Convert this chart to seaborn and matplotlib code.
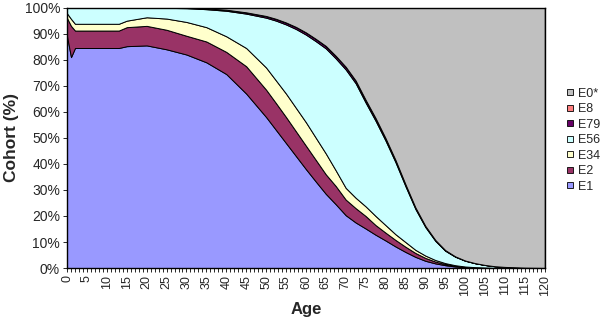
import numpy as np
import pandas as pd
import matplotlib
matplotlib.use("Agg")
import matplotlib.pyplot as plt
from matplotlib.ticker import MultipleLocator, PercentFormatter
from matplotlib.lines import Line2D
import seaborn as sns

ages = [0, 1, 2, 3, 5, 10, 13, 15, 20, 25, 30, 35, 40, 45, 50, 52.5, 55, 57.5,
        60, 62.5, 65, 67.5, 70, 72.5, 75, 77.5, 80, 82.5, 85, 87.5, 90, 92.5,
        95, 97.5, 100, 102.5, 105, 107.5, 110, 115, 120]

# share of cohort (%) per state, bottom to top
e1 = [89, 81, 84.5, 84.5, 84.5, 84.5, 84.5, 85.2, 85.5, 84, 82, 79, 74.5, 67,
      58, 53, 48, 43, 38, 33.2, 28.5, 24.5, 20.3, 17.5, 15.2, 12.8, 10.6, 8.3,
      6.2, 4.3, 2.8, 1.8, 1.1, 0.6, 0.35, 0.2, 0.1, 0.05, 0.02, 0, 0]
e2 = [7, 12, 6.7, 6.7, 6.7, 6.7, 6.7, 7.3, 7.5, 7.5, 7.2, 8, 8.5, 10.5, 10.5,
      10.3, 10, 9.5, 9, 8.3, 7.5, 7, 6, 5.5, 4.8, 3.7, 3.0, 2.5, 2.0, 1.5, 1.1,
      0.7, 0.4, 0.3, 0.15, 0.1, 0.05, 0.02, 0.01, 0, 0]
e34 = [1.8, 2.7, 2.6, 2.6, 2.6, 2.6, 2.6, 2.5, 3.3, 4.3, 5.3, 5.5, 6, 7, 8.5,
       8.7, 9, 9, 9, 8.5, 8, 6, 4.5, 4, 3.7, 3.5, 2.9, 2.2, 1.8, 1.2, 0.9, 0.6,
       0.4, 0.2, 0.1, 0.05, 0.05, 0.01, 0.01, 0, 0]
e56 = [2.2, 4.3, 6.2, 6.2, 6.2, 6.2, 6.2, 5, 3.7, 4.1, 5.3, 6.9, 9.8, 13.2,
       19.15, 23.0, 26.55, 30.3, 33.65, 37.1, 40.35, 43.0, 45.45, 43.95, 39.85,
       36.55, 32.45, 27.65, 21.45, 15.7, 10.95, 7.35, 4.75, 3.25, 2.2, 1.5,
       0.97, 0.6, 0.41, 0.15, 0.05]
e79 = [0, 0, 0, 0, 0, 0, 0, 0, 0, 0.1, 0.2, 0.3, 0.4, 0.5, 0.6, 0.65, 0.7,
       0.75, 0.8, 0.85, 0.9, 0.95, 1.0, 1.0, 1.0, 1.0, 0.9, 0.8, 0.7, 0.55,
       0.4, 0.3, 0.2, 0.15, 0.1, 0.05, 0.03, 0.02, 0, 0, 0]
e8 = [0, 0, 0, 0, 0, 0, 0, 0, 0, 0, 0, 0, 0, 0, 0.05, 0.05, 0.05, 0.05, 0.05,
      0.05, 0.05, 0.05, 0.05, 0.05, 0.05, 0.05, 0.05, 0.05, 0.05, 0.05, 0.05,
      0.05, 0.05, 0, 0, 0, 0, 0, 0, 0, 0]
e0 = [0, 0, 0, 0, 0, 0, 0, 0, 0, 0, 0, 0.3, 0.8, 1.8, 3.2, 4.3, 5.7, 7.4, 9.5,
      12, 14.7, 18.5, 22.7, 28, 35.4, 42.4, 50.1, 58.5, 67.8, 76.7, 83.8, 89.2,
      93.1, 95.5, 97.1, 98.1, 98.8, 99.3, 99.55, 99.85, 99.95]

states = ["E1", "E2", "E34", "E56", "E79", "E8", "E0*"]
colors = ["#9999FF", "#993366", "#FFFFCC", "#CCFFFF", "#660066", "#FF8080", "#C0C0C0"]

df = pd.DataFrame({"Age": ages, "E1": e1, "E2": e2, "E34": e34, "E56": e56,
                   "E79": e79, "E8": e8, "E0*": e0})

sns.set_style("ticks")
plt.rcParams["font.family"] = ["Liberation Sans", "DejaVu Sans"]

fig, ax = plt.subplots(figsize=(6, 3.18), dpi=100)
fig.subplots_adjust(left=0.1117, right=0.908, top=0.976, bottom=0.157)

ax.stackplot(df["Age"], [df[s] for s in states], colors=colors,
             edgecolor="black", linewidth=0.7)

ax.set_xlim(0, 120)
ax.set_ylim(0, 100)
ax.xaxis.set_major_locator(MultipleLocator(5))
ax.xaxis.set_minor_locator(MultipleLocator(1))
ax.yaxis.set_major_locator(MultipleLocator(10))
ax.yaxis.set_major_formatter(PercentFormatter(xmax=100, decimals=0))
ax.tick_params(axis="x", which="both", direction="out", length=3, width=0.7,
               labelsize=9, labelrotation=90, pad=2)
ax.tick_params(axis="y", direction="out", length=3, width=0.7, labelsize=10, pad=2)

for sp in ax.spines.values():
    sp.set_visible(True)
    sp.set_color("black")
    sp.set_linewidth(1.0)

ax.set_xlabel("Age", fontsize=12, fontweight="bold", labelpad=4)
ax.set_ylabel("Cohort (%)", fontsize=12.5, fontweight="bold", labelpad=4)

handles = [Line2D([], [], linestyle="none", marker="s", markersize=4.5,
                  markerfacecolor=c, markeredgecolor="black", markeredgewidth=0.6)
           for c in colors[::-1]]
fig.legend(handles, states[::-1], loc="center left",
           bbox_to_anchor=(0.943, 0.559), frameon=False, fontsize=9,
           handlelength=0.6, handletextpad=0.4, labelspacing=0.28,
           borderpad=0, borderaxespad=0)

plt.savefig("out.png", dpi=100)
